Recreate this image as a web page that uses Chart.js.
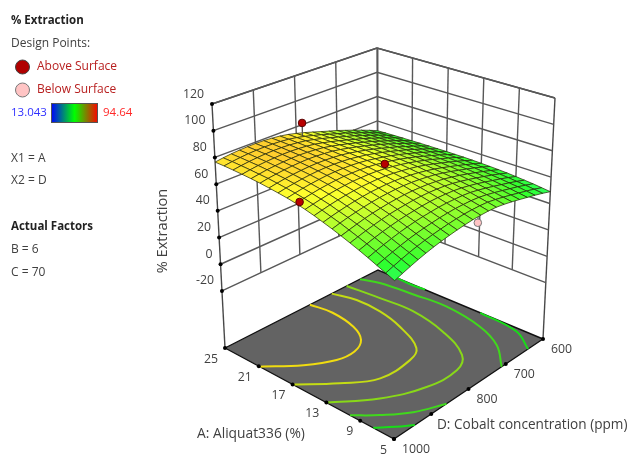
<!DOCTYPE html>
<html>
<head>
<meta charset="utf-8">
<title>% Extraction</title>
<script src="https://cdn.jsdelivr.net/npm/chart.js@4/dist/chart.umd.min.js"></script>
<style>
  html, body { margin: 0; padding: 0; background: #fff; }
  canvas { display: block; filter: blur(0.4px); }
</style>
</head>
<body>
<canvas id="surface" width="633" height="456"></canvas>
<script>
// axis ticks
const aliquatTicks = [25, 21, 17, 13, 9, 5];
const cobaltTicks = [600, 700, 800, 900, 1000];
const cobaltLabels = ['600', '700', '800', '', '1000'];
const extractionTicks = [120, 100, 80, 60, 40, 20, 0, -20];

// % Extraction: one row per cobalt step (1000 down to 600, step 20),
// each row runs Aliquat 25 down to 5 in steps of 1
const extraction = [
  [76.5,76.6,76.5,76.3,76.0,75.6,75.0,74.3,73.5,72.4,71.0,69.4,67.5,65.6,63.5,61.3,59.0,56.6,54.0,51.5,49.0],
  [77.4,77.5,77.4,77.2,76.9,76.6,76.0,75.3,74.5,73.5,72.1,70.6,68.8,67.0,64.9,62.8,60.6,58.3,55.8,53.3,50.9],
  [78.1,78.2,78.1,78.0,77.7,77.3,76.8,76.1,75.4,74.4,73.1,71.7,69.9,68.2,66.2,64.2,62.1,59.8,57.4,55.1,52.7],
  [78.6,78.7,78.6,78.5,78.2,77.9,77.4,76.8,76.1,75.2,74.0,72.6,70.9,69.2,67.4,65.4,63.4,61.2,58.9,56.7,54.4],
  [78.9,79.0,79.0,78.8,78.6,78.3,77.8,77.3,76.6,75.7,74.6,73.3,71.7,70.1,68.4,66.5,64.5,62.5,60.3,58.1,55.9],
  [79.0,79.1,79.1,79.0,78.8,78.5,78.1,77.6,77.0,76.1,75.0,73.8,72.3,70.8,69.1,67.4,65.5,63.5,61.4,59.3,57.2],
  [78.9,79.0,79.0,78.9,78.8,78.5,78.1,77.6,77.1,76.3,75.3,74.1,72.7,71.3,69.7,68.0,66.2,64.4,62.3,60.3,58.3],
  [78.4,78.6,78.6,78.5,78.4,78.2,77.8,77.4,76.9,76.1,75.2,74.1,72.8,71.5,70.0,68.4,66.7,65.0,63.0,61.1,59.2],
  [77.7,77.9,77.9,77.9,77.8,77.6,77.3,76.9,76.5,75.8,75.0,74.0,72.8,71.6,70.2,68.7,67.1,65.4,63.6,61.8,60.0],
  [76.6,76.8,76.9,76.9,76.9,76.8,76.5,76.2,75.8,75.2,74.5,73.6,72.5,71.4,70.1,68.7,67.3,65.7,64.0,62.3,60.6],
  [75.0,75.3,75.4,75.5,75.5,75.5,75.3,75.0,74.8,74.3,73.6,72.8,71.9,70.9,69.7,68.5,67.2,65.7,64.2,62.6,61.0],
  [73.2,73.5,73.7,73.8,73.9,73.9,73.8,73.7,73.4,73.0,72.5,71.8,71.0,70.1,69.1,68.0,66.8,65.4,64.0,62.6,61.1],
  [71.2,71.6,71.8,72.0,72.1,72.2,72.2,72.1,71.9,71.6,71.2,70.6,69.9,69.1,68.2,67.3,66.2,65.0,63.7,62.4,61.0],
  [69.1,69.5,69.8,70.0,70.2,70.3,70.3,70.3,70.2,70.0,69.6,69.2,68.5,67.9,67.1,66.2,65.2,64.2,63.0,61.8,60.5],
  [67.0,67.4,67.7,67.9,68.1,68.3,68.3,68.3,68.3,68.1,67.8,67.4,66.8,66.2,65.5,64.7,63.8,62.8,61.8,60.6,59.4],
  [65.0,65.4,65.7,65.9,66.1,66.2,66.2,66.2,66.2,66.1,65.8,65.4,64.9,64.4,63.8,63.0,62.2,61.2,60.2,59.1,58.0],
  [62.6,62.9,63.3,63.5,63.6,63.8,63.9,63.9,63.9,63.7,63.6,63.2,62.8,62.3,61.8,61.1,60.3,59.4,58.5,57.5,56.4],
  [60.2,60.5,60.8,61.0,61.2,61.4,61.4,61.5,61.5,61.4,61.2,61.0,60.6,60.2,59.7,59.1,58.3,57.5,56.7,55.7,54.7],
  [57.6,57.9,58.2,58.4,58.6,58.8,58.9,58.9,59.0,58.9,58.8,58.6,58.3,58.0,57.5,57.0,56.4,55.6,54.9,53.9,53.0],
  [54.9,55.2,55.5,55.7,55.9,56.1,56.2,56.3,56.3,56.3,56.3,56.1,55.8,55.6,55.2,54.7,54.2,53.5,52.8,52.0,51.1],
  [52.0,52.3,52.6,52.8,53.0,53.2,53.3,53.4,53.5,53.5,53.5,53.4,53.2,53.0,52.7,52.3,51.8,51.2,50.6,49.8,49.0]
];

// design points: aliquat, cobalt, measured, height of the surface under/over it
const designAliquat = [24.3, 15.6, 15, 5];
const designCobalt = [800, 1000, 800, 787];
const designExtraction = [85, 74.7, 77.3, 56.7];
const designSurface = [75.3, 71.5, 74, 61];
const designAbove = [true, true, true, false];

// contour lines on the floor, read as [aliquat, cobalt]
const contourLevels = [
  { color: '#f0dc10', line: [[25,778],[22.6,771],[19.6,782],[17.6,806],[16.7,843],[16.9,886],[18.4,940],[20.9,1000]] },
  { color: '#c4dc14', line: [[25,721],[22.6,708],[19.7,710],[16.6,726],[13,761],[12.1,798],[12.1,877],[14.2,938],[17,1000]] },
  { color: '#88d818', line: [[25,682],[21.3,675],[17.5,671],[13,690],[9.1,726],[7.8,768],[8.1,843],[10,925],[13,1000]] },
  { color: '#40d81c', line: [[10.2,1000],[8.3,963],[6.4,917],[5,859]] },
  { color: '#40d81c', line: [[25,647],[23.2,634],[19.5,626],[15.7,621],[11,636],[7.7,664],[5,711]] },
  { color: '#18dc18', line: [[7.45,1000],[6.1,971],[5,944]] },
  { color: '#18dc18', line: [[12.6,600],[7.8,609],[5,640]] },
  { color: '#18dc18', line: [[23,600],[21,602],[19.3,600]] }
];

const floorZ = -62.7;
const topZ = 120;
const aliquatRange = [25, 5];
const cobaltRange = [1000, 600];

// plot box corners on the canvas
const floorBox = [[225,348],[394,439],[543,339],[378,270]];
const topBox = [[212,104],[395,180],[555,98],[377,48]];

function boxPoint(b, u, v) {
  return [0,1].map(n => (1-u)*(1-v)*b[0][n] + u*(1-v)*b[1][n] + u*v*b[2][n] + (1-u)*v*b[3][n]);
}

function project(aliquat, cobalt, z) {
  const u = (aliquatRange[0]-aliquat)/(aliquatRange[0]-aliquatRange[1]);
  const v = (cobaltRange[0]-cobalt)/(cobaltRange[0]-cobaltRange[1]);
  const t = (z-floorZ)/(topZ-floorZ);
  const f = boxPoint(floorBox, u, v), c = boxPoint(topBox, u, v);
  return { x: f[0]+(c[0]-f[0])*t, y: f[1]+(c[1]-f[1])*t };
}

// blue - cyan - green - yellow - red over the legend range
const colorMin = 13.043, colorMax = 94.64;
const stops = [[0,0,255],[0,255,255],[0,255,0],[255,255,0],[255,0,0]];
function surfaceColor(z) {
  const t = Math.min(0.9999, Math.max(0, (z-colorMin)/(colorMax-colorMin)))*4;
  const k = Math.floor(t), f = t-k;
  const c = [0,1,2].map(n => stops[k][n]+(stops[k+1][n]-stops[k][n])*f);
  return 'rgb(' + c.map(v => Math.round(v+(255-v)*0.18)).join(',') + ')';
}

const datasets = [];
function addLine(points, color, width, order, extra) {
  datasets.push(Object.assign({
    data: points, showLine: true, borderColor: color, borderWidth: width,
    pointRadius: 0, order: order, tension: 0, fill: false, clip: false
  }, extra || {}));
}

const wallColor = '#585858';
// wall at Aliquat 25 and wall at Cobalt 600
extractionTicks.forEach(z => {
  addLine([project(25,1000,z), project(25,600,z), project(5,600,z)], wallColor, 1.4, 100);
});
addLine([project(25,1000,topZ), project(25,600,topZ), project(5,600,topZ)], '#484848', 1.5, 100);
cobaltTicks.slice(1, -1).forEach(d => addLine([project(25,d,topZ), project(25,d,-20)], wallColor, 1.4, 100));
aliquatTicks.slice(1, -1).forEach(a => addLine([project(a,600,topZ), project(a,600,-20)], wallColor, 1.4, 100));
addLine([project(25,600,topZ), project(25,600,-20)], wallColor, 1.4, 100);
addLine([project(25,1000,topZ), project(25,1000,floorZ)], '#484848', 1.4, 100);
addLine([project(5,600,topZ), project(5,600,floorZ)], '#484848', 1.4, 100);

// floor
const corners = [[25,1000],[5,1000],[5,600],[25,600],[25,1000]];
addLine(corners.map(c => project(c[0],c[1],floorZ)), '#111', 1.4, 90, { fill: 'shape', backgroundColor: '#636363' });

// contours
contourLevels.forEach(c => {
  addLine(c.line.map(p => project(p[0],p[1],floorZ)), c.color, 2, 80, { tension: 0.4 });
});

// surface, painted from the back corner to the front corner
const rows = extraction.length, cols = extraction[0].length;
const aliquatAt = i => 25-20*i/(cols-1);
const cobaltAt = j => 1000-400*j/(rows-1);
for (let j = 0; j < rows-1; j++) {
  for (let i = 0; i < cols-1; i++) {
    const z00 = extraction[j][i], z10 = extraction[j][i+1], z11 = extraction[j+1][i+1], z01 = extraction[j+1][i];
    const quad = [
      project(aliquatAt(i),cobaltAt(j),z00), project(aliquatAt(i+1),cobaltAt(j),z10),
      project(aliquatAt(i+1),cobaltAt(j+1),z11), project(aliquatAt(i),cobaltAt(j+1),z01)
    ];
    quad.push(quad[0]);
    addLine(quad, 'rgba(35,40,10,0.72)', 1, 50-i+j, { fill: 'shape', backgroundColor: surfaceColor((z00+z10+z11+z01)/4) });
  }
}

// stems and design points
designAliquat.forEach((a, n) => {
  const p = project(a, designCobalt[n], designExtraction[n]);
  addLine([p, project(a, designCobalt[n], designSurface[n])], '#555', 1.2, -30);
  datasets.push({
    data: [p], pointRadius: 3.8, order: -40, clip: false,
    pointBackgroundColor: designAbove[n] ? '#b80000' : '#ffc4c4',
    pointBorderColor: designAbove[n] ? '#5a0000' : '#777', pointBorderWidth: 1
  });
});

// tick dots on the axes
const dots = extractionTicks.map(z => project(25,1000,z))
  .concat(aliquatTicks.map(a => project(a,1000,floorZ)))
  .concat(cobaltTicks.map(d => project(5,d,floorZ)));
datasets.push({ data: dots, pointRadius: 2, pointBackgroundColor: '#000', pointBorderWidth: 0, order: -50, clip: false });

// legend markers
datasets.push({ data: [{x:22.5,y:67}], pointRadius: 7, pointBackgroundColor: '#b00000', pointBorderColor: '#444', pointBorderWidth: 1, order: -50 });
datasets.push({ data: [{x:22.5,y:90}], pointRadius: 7, pointBackgroundColor: '#ffc4c4', pointBorderColor: '#777', pointBorderWidth: 1, order: -50 });

const textColor = '#404040';
const fontName = '"Open Sans"';
const captions = [
  ['% Extraction', 11, 21, 'bold 11.5px', '#222'],
  ['Design Points:', 11, 44, '12px', textColor],
  ['Above Surface', 37, 67, '12px', '#b82020'],
  ['Below Surface', 37, 90, '12px', '#b82020'],
  ['13.043', 11, 113, '11.5px', '#3030ff'],
  ['94.64', 103, 113, '11.5px', '#ff2828'],
  ['X1 = A', 11, 159, '12px', textColor],
  ['X2 = D', 11, 181, '12px', textColor],
  ['Actual Factors', 11, 227, 'bold 11.5px', '#222'],
  ['B = 6', 11, 250, '12px', textColor],
  ['C = 70', 11, 273, '12px', textColor],
  ['A: Aliquat336 (%)', 197, 434, '13.8px', textColor],
  ['D: Cobalt concentration (ppm)', 437, 425, '13.6px', textColor]
];

const labelPlugin = {
  id: 'labels',
  afterDraw(chart) {
    const ctx = chart.ctx;
    ctx.save();
    ctx.textBaseline = 'middle';
    ctx.textAlign = 'left';
    captions.forEach(c => {
      ctx.font = c[3] + ' ' + fontName;
      ctx.fillStyle = c[4];
      ctx.fillText(c[0], c[1], c[2]);
    });
    ctx.font = '12.3px ' + fontName;
    ctx.fillStyle = textColor;
    ctx.textAlign = 'right';
    extractionTicks.forEach(z => {
      const p = project(25,1000,z);
      ctx.fillText(String(z), p.x-8, p.y-10);
    });
    aliquatTicks.forEach(a => {
      const p = project(a,1000,floorZ);
      ctx.fillText(String(a), p.x-7, p.y+11);
    });
    ctx.textAlign = 'left';
    cobaltTicks.forEach((d, n) => {
      const p = project(5,d,floorZ);
      ctx.fillText(cobaltLabels[n], p.x+8, p.y+10);
    });
    ctx.translate(163, 231);
    ctx.rotate(-Math.PI/2);
    ctx.textAlign = 'center';
    ctx.font = '14.6px ' + fontName;
    ctx.fillText('% Extraction', 0, 0);
    ctx.restore();

    // legend colour bar
    const bar = ctx.createLinearGradient(51, 0, 98, 0);
    bar.addColorStop(0, '#0000ff');
    bar.addColorStop(0.5, '#00ff00');
    bar.addColorStop(1, '#ff0000');
    ctx.fillStyle = bar;
    ctx.fillRect(51, 103, 47, 20);
    ctx.strokeStyle = '#555';
    ctx.lineWidth = 1;
    ctx.strokeRect(51.5, 103.5, 46, 19);
  }
};

new Chart(document.getElementById('surface'), {
  type: 'scatter',
  data: { datasets: datasets },
  options: {
    responsive: false,
    animation: false,
    events: [],
    layout: { padding: 0, autoPadding: false },
    plugins: { legend: { display: false }, tooltip: { enabled: false } },
    scales: {
      x: { type: 'linear', min: 0, max: 633, display: false },
      y: { type: 'linear', min: 0, max: 456, reverse: true, display: false }
    }
  },
  plugins: [labelPlugin]
});
</script>
</body>
</html>
